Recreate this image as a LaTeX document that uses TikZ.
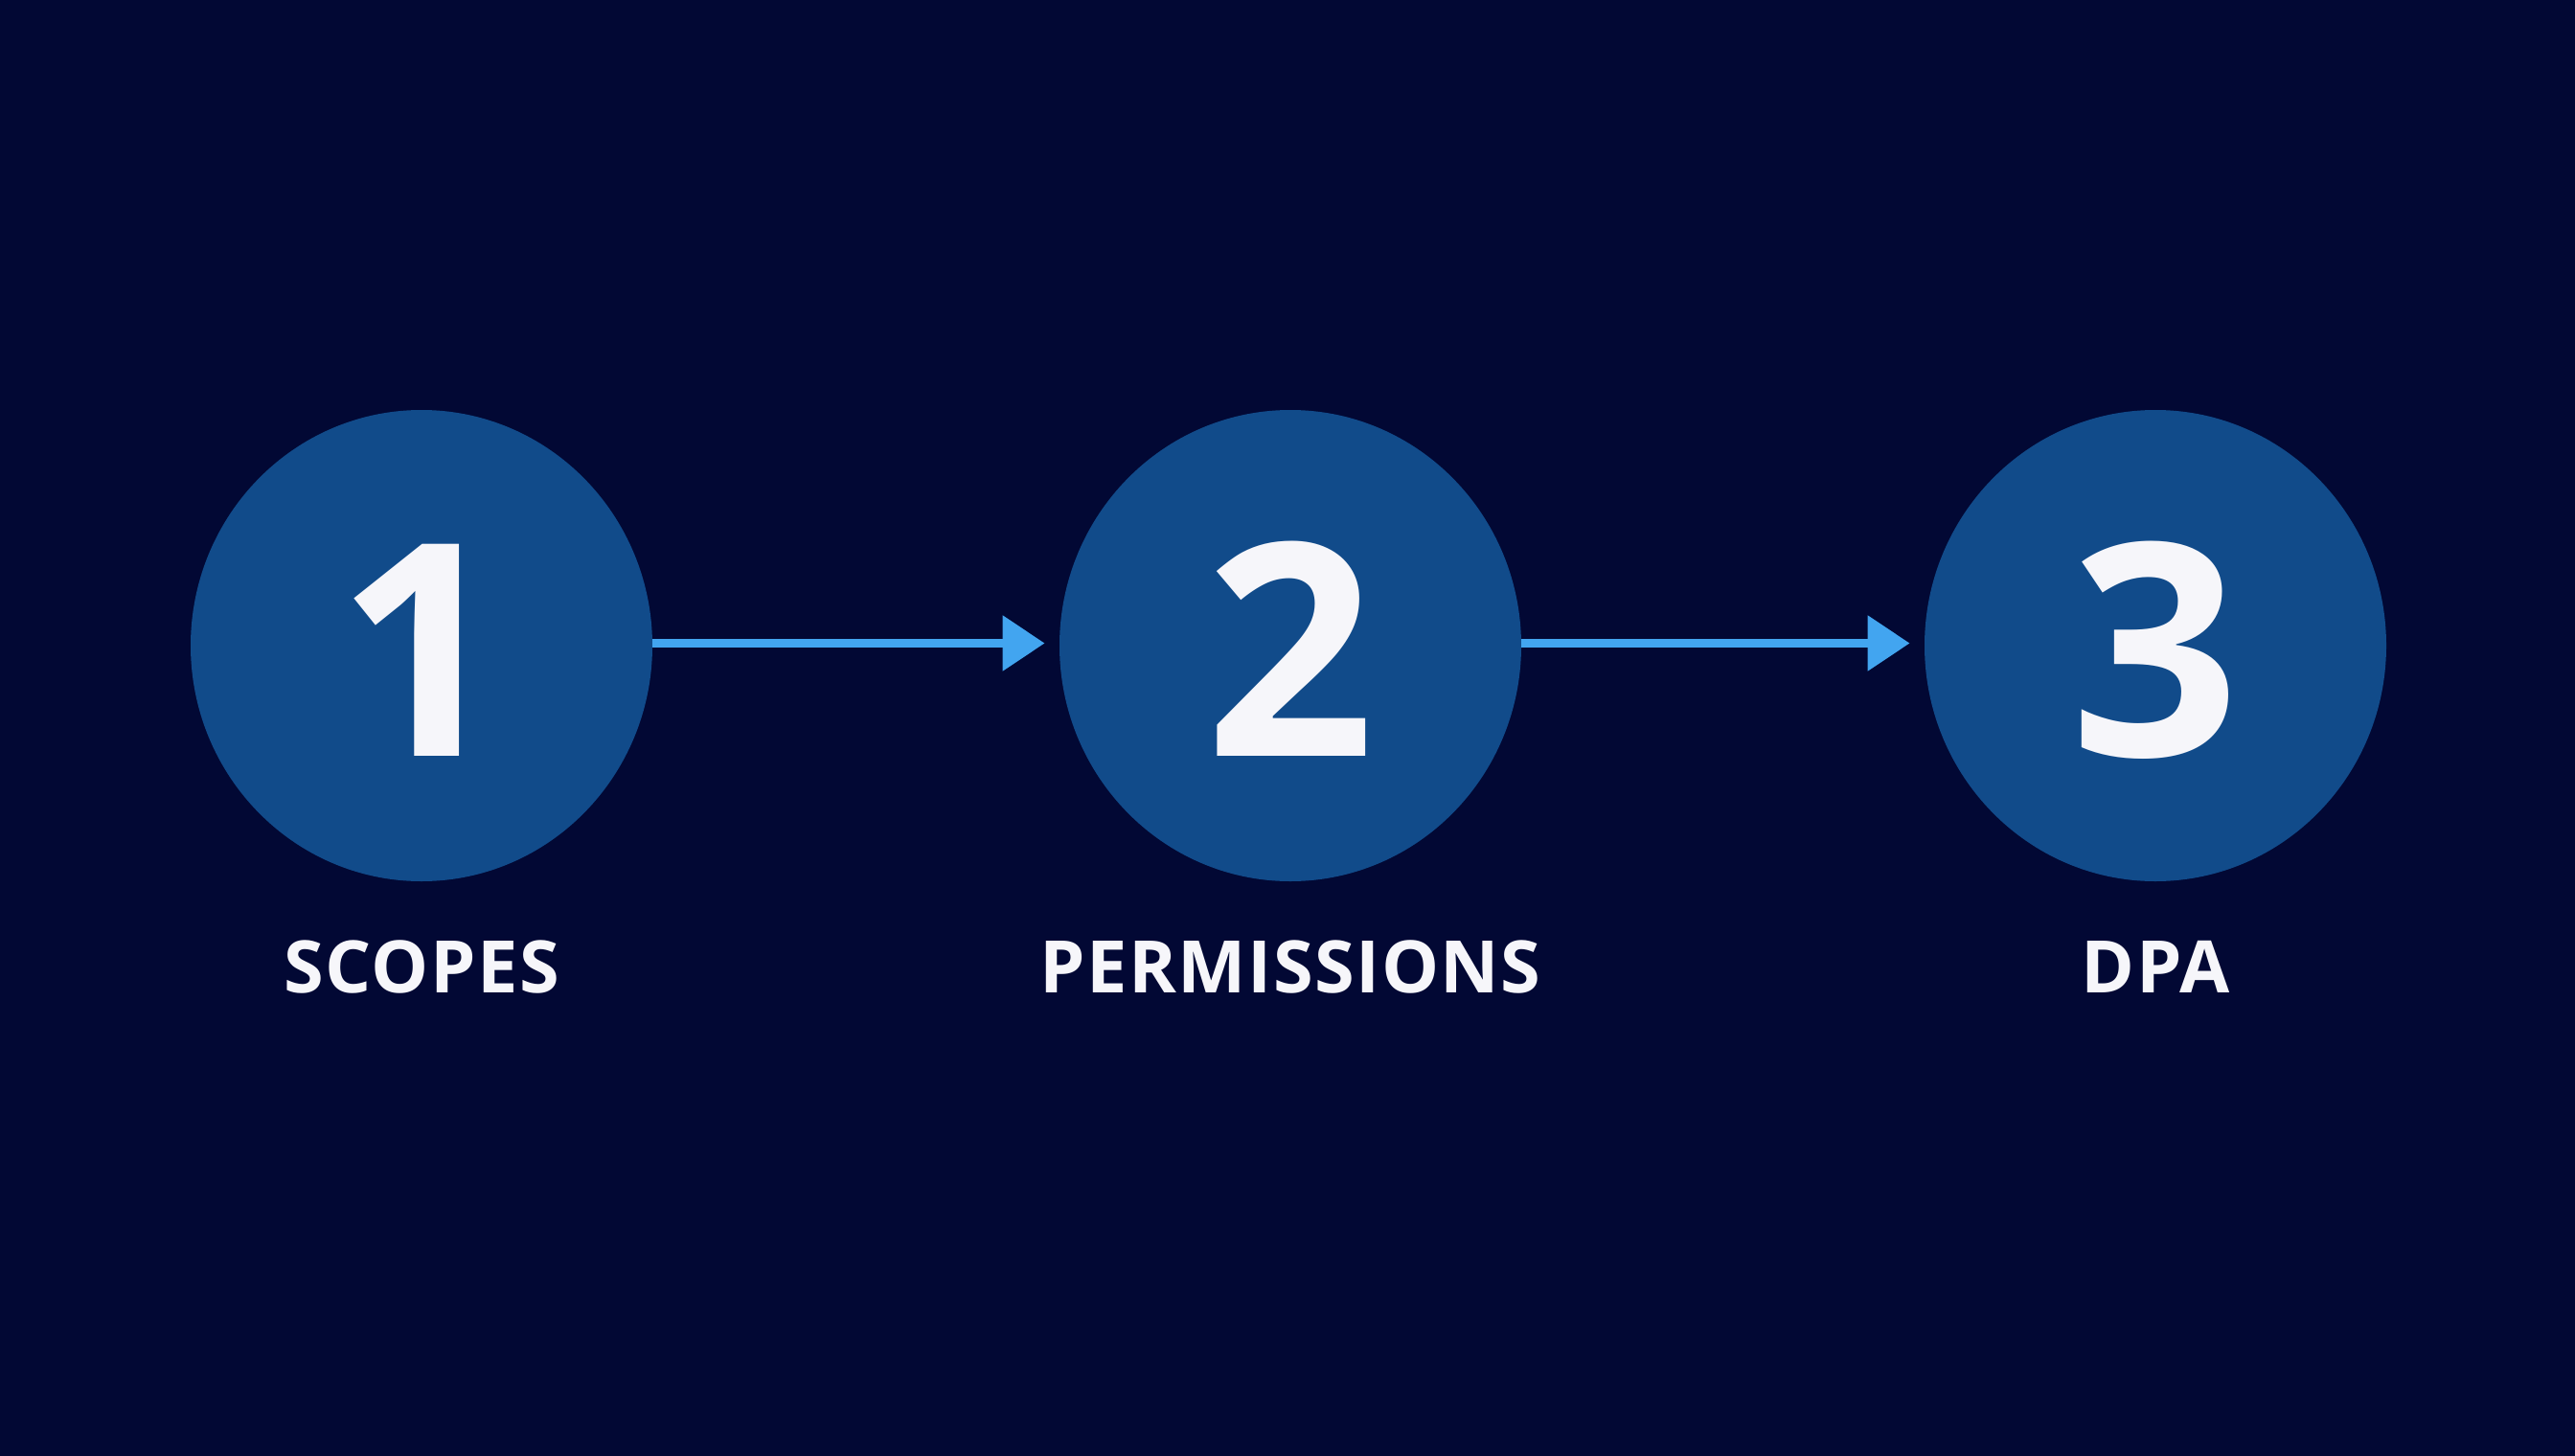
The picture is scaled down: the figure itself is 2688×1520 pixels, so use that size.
\documentclass[tikz,border=0pt]{standalone}
\usepackage{fontspec}
\setmainfont{Open Sans}
\usetikzlibrary{shapes.geometric,arrows.meta}
\definecolor{bgnavy}{RGB}{2,8,52}
\definecolor{circblue}{RGB}{17,75,138}
\definecolor{arrblue}{RGB}{66,165,240}
\definecolor{txtwhite}{RGB}{246,246,250}
\begin{document}
\begin{tikzpicture}[x=0.5pt,y=-0.5pt,
  stepcircle/.style={ellipse, fill=circblue, minimum width=241pt, minimum height=246pt, inner sep=0pt},
  digit/.style={anchor=base, text=txtwhite, font=\fontsize{155pt}{155pt}\selectfont\bfseries, inner sep=0pt},
  steplabel/.style={anchor=base, text=txtwhite, font=\fontsize{37.8pt}{37.8pt}\selectfont\bfseries\addfontfeature{LetterSpace=2}, inner sep=0pt},
  flow/.style={draw=arrblue, line width=4.5pt, -{Triangle[length=22pt,width=28pt]}, shorten >=7.5pt}]
\fill[bgnavy] (0,0) rectangle (2688,1520);
\useasboundingbox (0,0) rectangle (2688,1520);
\node[stepcircle] (c1) at (440,674) {};
\node[stepcircle] (c2) at (1347,674) {};
\node[stepcircle] (c3) at (2250,674) {};
\node[digit] (d1) at (440,789) {1};
\node[digit] (d2) at (1347,789) {2};
\node[digit] (d3) at (2250,789) {3};
\node[steplabel] (l1) at (440,1036) {SCOPES};
\node[steplabel] (l2) at (1347,1036) {PERMISSIONS};
\node[steplabel] (l3) at (2250,1036) {DPA};
\draw[flow] ([yshift=1.25pt]c1.east) -- ([yshift=1.25pt]c2.west);
\draw[flow] ([yshift=1.25pt]c2.east) -- ([yshift=1.25pt]c3.west);
\end{tikzpicture}
\end{document}
